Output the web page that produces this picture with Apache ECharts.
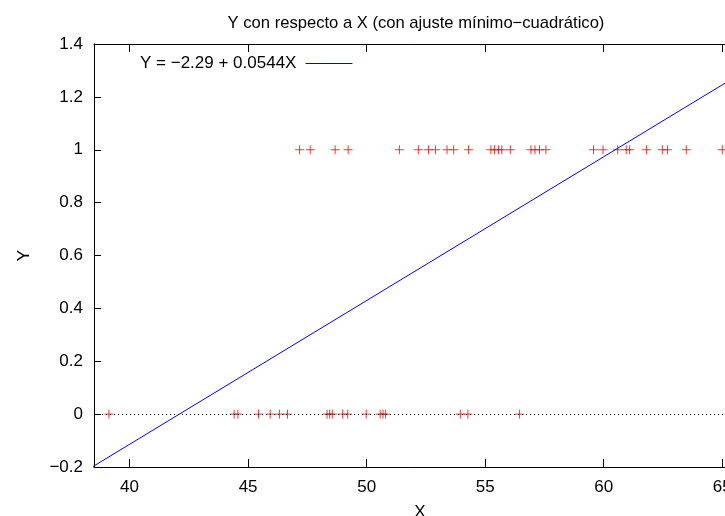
<!DOCTYPE html>
<html>
<head>
<meta charset="utf-8">
<script src="https://cdn.jsdelivr.net/npm/echarts@6/dist/echarts.min.js"></script>
<style>
  html, body { margin: 0; padding: 0; background: #fff; }
  #main { width: 725px; height: 516px; }
</style>
</head>
<body>
<div id="main"></div>
<script>
// X de los puntos con Y = 1
var xOnes = [47.17, 47.62, 48.67, 49.22, 51.38, 52.18, 52.61, 52.90, 53.39, 53.67,
  54.30, 55.24, 55.39, 55.56, 55.70, 56.06, 56.93, 57.10, 57.29, 57.56,
  59.57, 59.97, 60.59, 60.95, 61.09, 61.80, 62.47, 62.69, 63.48, 65.00];
// X de los puntos con Y = 0
var xZeros = [39.13, 44.41, 44.57, 45.44, 45.93, 46.32, 46.66, 48.33, 48.44, 48.55,
  48.99, 49.20, 49.98, 50.57, 50.69, 50.80, 53.95, 54.27, 56.45];
// recta ajustada (extremos)
var fitX = [38.0, 66.0];
var fitY = [-0.223, 1.300];
var xTicks = [40, 45, 50, 55, 60, 65];

var points = [];
xOnes.forEach(function (x) { points.push([x, 1]); });
xZeros.forEach(function (x) { points.push([x, 0]); });
var fitLine = fitX.map(function (x, i) { return [x, fitY[i]]; });

var font = 'Liberation Sans, Arial, sans-serif';
var fs = 17;
var myChart = echarts.init(document.getElementById('main'));

function fmtY(v) {
  var s = String(Math.round(v * 10) / 10);
  return s.replace('-', '\u2212');
}

// ejes auxiliares ocultos cuyo cero cae en el borde: los ejes del marco se "pegan" ahi
function frameLine(idx) {
  return { show: true, onZero: true, onZeroAxisIndex: idx, lineStyle: { color: '#000', width: 1 } };
}
function ticks(len, custom) {
  var t = { show: true, inside: true, length: len, lineStyle: { color: '#000', width: 1 } };
  if (custom) t.customValues = custom;
  return t;
}

myChart.setOption({
  animation: false,
  title: {
    text: 'Y con respecto a X (con ajuste mínimo\u2212cuadrático)',
    left: 411,
    top: 10,
    textAlign: 'center',
    textStyle: { fontFamily: font, fontSize: 16.6, fontWeight: 'normal', color: '#000' }
  },
  legend: {
    left: 135,
    top: 50,
    align: 'right',
    itemWidth: 47,
    itemHeight: 1,
    itemGap: 0,
    data: [{ name: 'Y = \u22122.29 + 0.0544X', icon: 'rect' }],
    textStyle: { fontFamily: font, fontSize: fs, color: '#000', padding: [0, 4, 0, 0] }
  },
  grid: {
    left: 94,
    width: 652,
    top: 44,
    height: 423,
    outerBoundsMode: 'none'
  },
  xAxis: [
    {
      type: 'value',
      min: 38.5,
      max: 66,
      name: 'X',
      nameLocation: 'middle',
      nameGap: 37,
      nameTextStyle: { fontFamily: font, fontSize: fs, color: '#000' },
      axisLine: frameLine(1),
      axisTick: ticks(8, xTicks),
      axisLabel: { customValues: xTicks, margin: 12, fontFamily: font, fontSize: fs, color: '#000' },
      splitLine: { show: false }
    },
    {
      type: 'value',
      position: 'top',
      min: 38.5,
      max: 66,
      axisLine: frameLine(2),
      axisTick: ticks(8, xTicks),
      axisLabel: { show: false },
      splitLine: { show: false }
    },
    {
      type: 'value',
      show: false,
      min: 0,
      max: 27.5
    }
  ],
  yAxis: [
    {
      type: 'value',
      min: -0.2,
      max: 1.4,
      interval: 0.2,
      name: 'Y',
      nameLocation: 'middle',
      nameRotate: 90,
      nameGap: 61,
      nameTextStyle: { fontFamily: font, fontSize: fs, color: '#000' },
      axisLine: frameLine(2),
      axisTick: ticks(7, null),
      axisLabel: { margin: 11, fontFamily: font, fontSize: fs, color: '#000', formatter: fmtY },
      splitLine: { show: false }
    },
    {
      type: 'value',
      position: 'right',
      min: 0,
      max: 1.6,
      interval: 0.2,
      axisLine: { show: true, onZero: false, lineStyle: { color: '#000', width: 1 } },
      axisTick: ticks(7, null),
      axisLabel: { show: false },
      splitLine: { show: false }
    },
    {
      type: 'value',
      show: false,
      min: -1.6,
      max: 0
    }
  ],
  series: [
    {
      name: 'Y = \u22122.29 + 0.0544X',
      type: 'line',
      data: fitLine,
      showSymbol: false,
      symbol: 'none',
      clip: true,
      color: '#0000ff',
      lineStyle: { color: '#0000ff', width: 1 },
      markLine: {
        silent: true,
        symbol: 'none',
        label: { show: false },
        lineStyle: { color: '#000', type: [1, 3], width: 1 },
        data: [{ yAxis: 0 }]
      }
    },
    {
      name: 'datos',
      type: 'scatter',
      data: points,
      symbol: 'path://M0,5L10,5M5,0L5,10',
      symbolSize: 9,
      itemStyle: { color: 'none', borderColor: '#ff0000', borderWidth: 1 }
    }
  ]
});
</script>
</body>
</html>
